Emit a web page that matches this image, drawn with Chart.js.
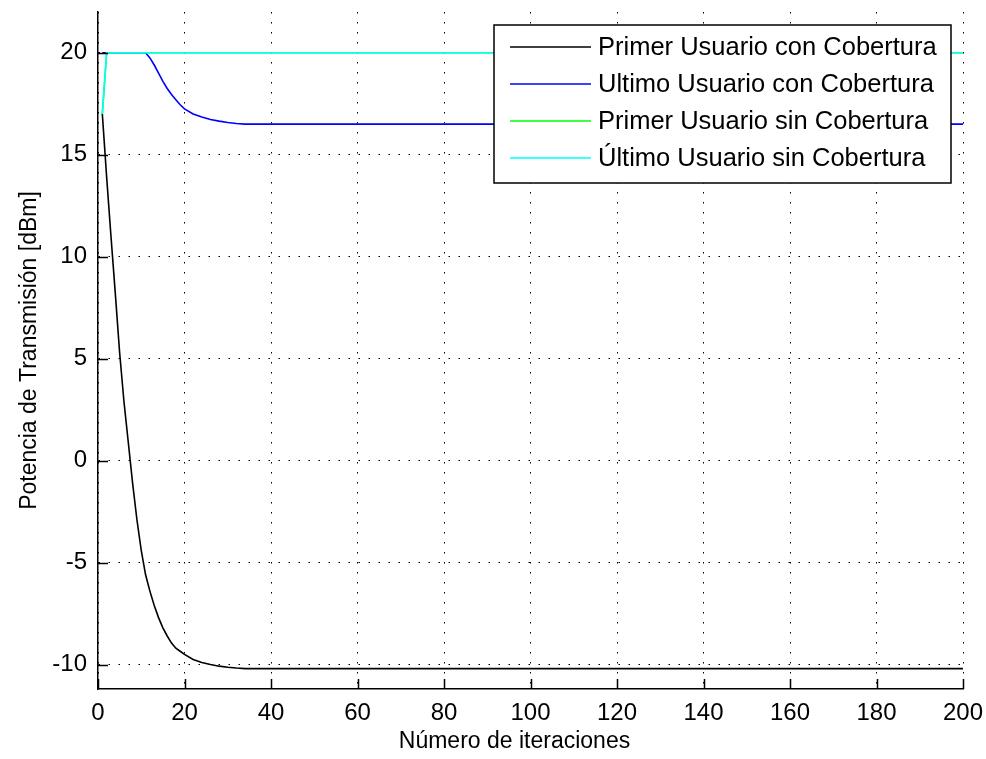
<!DOCTYPE html>
<html>
<head>
<meta charset="utf-8">
<script src="https://cdn.jsdelivr.net/npm/chart.js@4/dist/chart.umd.min.js"></script>
<style>
  html, body { margin: 0; padding: 0; background: #fff; }
  #wrap { width: 986px; height: 759px; }
</style>
</head>
<body>
<div id="wrap"><canvas id="chart" width="986" height="759"></canvas></div>
<script>
// series data
const labels = [
	"Primer Usuario con Cobertura",
	"Ultimo Usuario con Cobertura",
	"Primer Usuario sin Cobertura",
	"Último Usuario sin Cobertura",
];
const colors = ["#000000", "#0000ff", "#00ff00", "#00ffff"];

const primerConX = [1, 2, 3, 4, 5, 6, 7, 8, 9, 10, 11, 12, 13, 14, 15, 16, 17, 18, 19, 20, 22, 24, 26, 28, 30, 32, 34, 200];
const primerConY = [17.0, 13.9, 11.0, 8.2, 5.3, 2.9, 0.9, -1.1, -2.9, -4.4, -5.6, -6.4, -7.1, -7.7, -8.2, -8.6, -8.95, -9.2, -9.35, -9.5, -9.75, -9.9, -10.0, -10.08, -10.13, -10.17, -10.2, -10.2];

const ultimoConX = [1, 11, 12, 13, 14, 15, 16, 17, 18, 19, 20, 22, 24, 26, 28, 30, 32, 34, 200];
const ultimoConY = [20, 20, 19.75, 19.4, 19.0, 18.6, 18.25, 17.95, 17.7, 17.45, 17.25, 17.0, 16.85, 16.73, 16.65, 16.58, 16.53, 16.5, 16.5];

const primerSinX = [1, 2, 200];
const primerSinY = [17, 20, 20];

const ultimoSinX = [1, 2, 200];
const ultimoSinY = [17, 20, 20];

const xTicks = [0, 20, 40, 60, 80, 100, 120, 140, 160, 180, 200];
const yTicks = [-10, -5, 0, 5, 10, 15, 20];

const xTitle = "Número de iteraciones";
const yTitle = "Potencia de Transmisión [dBm]";

const toPoints = (xs, ys) => xs.map((x, i) => ({ x: x, y: ys[i] }));
const seriesX = [primerConX, ultimoConX, primerSinX, ultimoSinX];
const seriesY = [primerConY, ultimoConY, primerSinY, ultimoSinY];

const FONT = "'Liberation Sans', Arial, sans-serif";

// matlab style inward ticks
const inwardTicks = {
	id: "inwardTicks",
	afterDraw(chart) {
		const ctx = chart.ctx;
		const xs = chart.scales.x;
		const ys = chart.scales.y;
		const area = chart.chartArea;
		const len = 10;
		ctx.save();
		ctx.strokeStyle = "#000";
		ctx.lineWidth = 1.5;
		ctx.beginPath();
		for (const v of xTicks) {
			const px = Math.round(xs.getPixelForValue(v)) + 0.5;
			ctx.moveTo(px, area.bottom);
			ctx.lineTo(px, area.bottom - len);
		}
		for (const v of yTicks) {
			const py = Math.round(ys.getPixelForValue(v)) + 0.5;
			ctx.moveTo(area.left, py);
			ctx.lineTo(area.left + len, py);
		}
		ctx.stroke();
		ctx.restore();
	}
};

// x label sits a bit left of the axes centre, like the original figure
const xLabel = {
	id: "xLabel",
	afterDraw(chart) {
		const ctx = chart.ctx;
		const area = chart.chartArea;
		ctx.save();
		ctx.font = "23px " + FONT;
		ctx.fillStyle = "#000";
		ctx.textAlign = "center";
		ctx.textBaseline = "middle";
		ctx.fillText(xTitle, (area.left + area.right) / 2 - 16, chart.height - 17);
		ctx.restore();
	}
};

// legend box in the upper right corner of the axes
const boxLegend = {
	id: "boxLegend",
	afterDraw(chart) {
		const ctx = chart.ctx;
		const area = chart.chartArea;
		const right = area.right - 12;
		const top = area.top + 13;
		const width = 457;
		const rowH = 37;
		const left = right - width;
		const height = rowH * labels.length + 10;
		ctx.save();
		ctx.fillStyle = "#fff";
		ctx.fillRect(left, top, width, height);
		ctx.strokeStyle = "#000";
		ctx.lineWidth = 1.5;
		ctx.strokeRect(left, top, width, height);
		ctx.font = "25.5px " + FONT;
		ctx.textBaseline = "middle";
		chart.data.datasets.forEach((ds, i) => {
			const y = top + 22 + i * rowH;
			ctx.strokeStyle = ds.borderColor;
			ctx.lineWidth = 1.5;
			ctx.beginPath();
			ctx.moveTo(left + 16, y);
			ctx.lineTo(left + 97, y);
			ctx.stroke();
			ctx.fillStyle = "#000";
			ctx.fillText(ds.label, left + 104, y + 1);
		});
		ctx.restore();
	}
};

new Chart(document.getElementById("chart"), {
	type: "scatter",
	data: {
		datasets: labels.map((label, i) => ({
			label: label,
			data: toPoints(seriesX[i], seriesY[i]),
			showLine: true,
			borderColor: colors[i],
			backgroundColor: colors[i],
			borderWidth: 1.6,
			pointRadius: 0,
			tension: 0,
			order: labels.length - i,
		})),
	},
	options: {
		responsive: false,
		animation: false,
		layout: { padding: { top: 12, right: 23, left: 0, bottom: 0 } },
		plugins: {
			legend: { display: false },
			tooltip: { enabled: false },
		},
		scales: {
			x: {
				type: "linear",
				min: 0,
				max: 200,
				afterFit: (s) => { s.height = 70; s.paddingLeft = 0; s.paddingRight = 0; },
				afterBuildTicks: (s) => { s.ticks = xTicks.map(v => ({ value: v })); },
				ticks: {
					color: "#000",
					font: { size: 24, family: FONT },
					padding: 10,
					maxRotation: 0,
					autoSkip: false,
				},
				grid: {
					color: "#000",
					lineWidth: 1,
					drawTicks: false,
				},
				border: { display: true, color: "#000", width: 1.5, dash: [1.5, 8.5] },
				title: { display: false },
			},
			y: {
				type: "linear",
				min: -11.2,
				max: 22,
				afterFit: (s) => { s.width = 98; s.paddingTop = 0; s.paddingBottom = 0; },
				afterBuildTicks: (s) => { s.ticks = yTicks.map(v => ({ value: v })); },
				ticks: {
					color: "#000",
					font: { size: 24, family: FONT },
					padding: 11,
					autoSkip: false,
				},
				grid: {
					color: "#000",
					lineWidth: 1,
					drawTicks: false,
				},
				border: { display: true, color: "#000", width: 1.5, dash: [1.5, 8.5] },
				title: {
					display: true,
					text: yTitle,
					color: "#000",
					font: { size: 23, family: FONT },
					padding: { top: 16, bottom: 0 },
				},
			},
		},
	},
	plugins: [inwardTicks, xLabel, boxLegend],
});
</script>
</body>
</html>
